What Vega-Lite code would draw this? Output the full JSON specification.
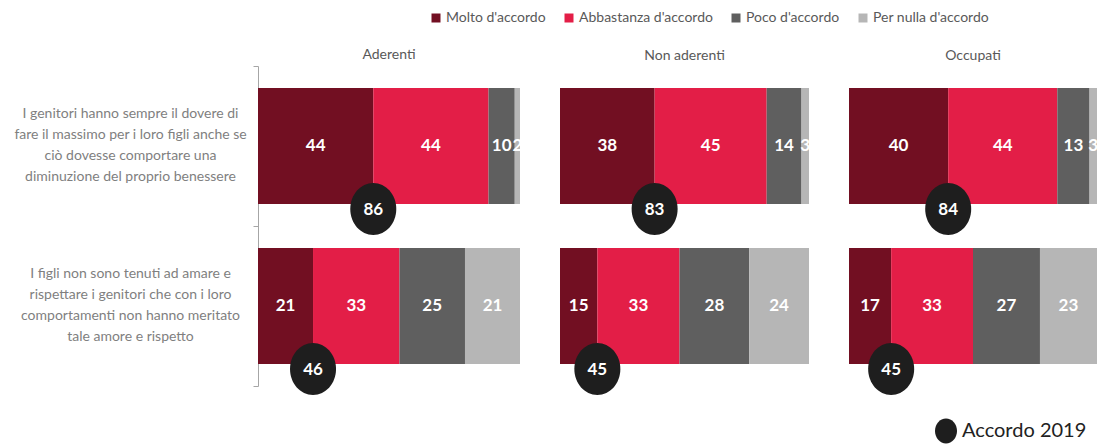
{
  "$schema": "https://vega.github.io/schema/vega-lite/v6.json",
  "background": "white",
  "padding": {"left": 13, "top": 11, "right": 0, "bottom": 0},
  "bounds": "flush",
  "spacing": 40,
  "config": {
    "view": {"stroke": null},
    "font": "Lato",
    "title": {"font": "Lato", "fontSize": 14, "fontWeight": "normal", "color": "#595959", "offset": -2, "frame": "group", "anchor": "middle"}
  },
  "datasets": {
    "bars": [
      {"grp": "Aderenti", "item": "I genitori hanno sempre il dovere di|fare il massimo per i loro figli anche se|ciò dovesse comportare una|diminuzione del proprio benessere", "cat": "Molto d'accordo", "k": 1, "v": 44},
      {"grp": "Aderenti", "item": "I genitori hanno sempre il dovere di|fare il massimo per i loro figli anche se|ciò dovesse comportare una|diminuzione del proprio benessere", "cat": "Abbastanza d'accordo", "k": 2, "v": 44},
      {"grp": "Aderenti", "item": "I genitori hanno sempre il dovere di|fare il massimo per i loro figli anche se|ciò dovesse comportare una|diminuzione del proprio benessere", "cat": "Poco d'accordo", "k": 3, "v": 10},
      {"grp": "Aderenti", "item": "I genitori hanno sempre il dovere di|fare il massimo per i loro figli anche se|ciò dovesse comportare una|diminuzione del proprio benessere", "cat": "Per nulla d'accordo", "k": 4, "v": 2},
      {"grp": "Aderenti", "item": "I figli non sono tenuti ad amare e|rispettare i genitori che con i loro|comportamenti non hanno meritato|tale amore e rispetto", "cat": "Molto d'accordo", "k": 1, "v": 21},
      {"grp": "Aderenti", "item": "I figli non sono tenuti ad amare e|rispettare i genitori che con i loro|comportamenti non hanno meritato|tale amore e rispetto", "cat": "Abbastanza d'accordo", "k": 2, "v": 33},
      {"grp": "Aderenti", "item": "I figli non sono tenuti ad amare e|rispettare i genitori che con i loro|comportamenti non hanno meritato|tale amore e rispetto", "cat": "Poco d'accordo", "k": 3, "v": 25},
      {"grp": "Aderenti", "item": "I figli non sono tenuti ad amare e|rispettare i genitori che con i loro|comportamenti non hanno meritato|tale amore e rispetto", "cat": "Per nulla d'accordo", "k": 4, "v": 21},
      {"grp": "Non aderenti", "item": "I genitori hanno sempre il dovere di|fare il massimo per i loro figli anche se|ciò dovesse comportare una|diminuzione del proprio benessere", "cat": "Molto d'accordo", "k": 1, "v": 38},
      {"grp": "Non aderenti", "item": "I genitori hanno sempre il dovere di|fare il massimo per i loro figli anche se|ciò dovesse comportare una|diminuzione del proprio benessere", "cat": "Abbastanza d'accordo", "k": 2, "v": 45},
      {"grp": "Non aderenti", "item": "I genitori hanno sempre il dovere di|fare il massimo per i loro figli anche se|ciò dovesse comportare una|diminuzione del proprio benessere", "cat": "Poco d'accordo", "k": 3, "v": 14},
      {"grp": "Non aderenti", "item": "I genitori hanno sempre il dovere di|fare il massimo per i loro figli anche se|ciò dovesse comportare una|diminuzione del proprio benessere", "cat": "Per nulla d'accordo", "k": 4, "v": 3},
      {"grp": "Non aderenti", "item": "I figli non sono tenuti ad amare e|rispettare i genitori che con i loro|comportamenti non hanno meritato|tale amore e rispetto", "cat": "Molto d'accordo", "k": 1, "v": 15},
      {"grp": "Non aderenti", "item": "I figli non sono tenuti ad amare e|rispettare i genitori che con i loro|comportamenti non hanno meritato|tale amore e rispetto", "cat": "Abbastanza d'accordo", "k": 2, "v": 33},
      {"grp": "Non aderenti", "item": "I figli non sono tenuti ad amare e|rispettare i genitori che con i loro|comportamenti non hanno meritato|tale amore e rispetto", "cat": "Poco d'accordo", "k": 3, "v": 28},
      {"grp": "Non aderenti", "item": "I figli non sono tenuti ad amare e|rispettare i genitori che con i loro|comportamenti non hanno meritato|tale amore e rispetto", "cat": "Per nulla d'accordo", "k": 4, "v": 24},
      {"grp": "Occupati", "item": "I genitori hanno sempre il dovere di|fare il massimo per i loro figli anche se|ciò dovesse comportare una|diminuzione del proprio benessere", "cat": "Molto d'accordo", "k": 1, "v": 40},
      {"grp": "Occupati", "item": "I genitori hanno sempre il dovere di|fare il massimo per i loro figli anche se|ciò dovesse comportare una|diminuzione del proprio benessere", "cat": "Abbastanza d'accordo", "k": 2, "v": 44},
      {"grp": "Occupati", "item": "I genitori hanno sempre il dovere di|fare il massimo per i loro figli anche se|ciò dovesse comportare una|diminuzione del proprio benessere", "cat": "Poco d'accordo", "k": 3, "v": 13},
      {"grp": "Occupati", "item": "I genitori hanno sempre il dovere di|fare il massimo per i loro figli anche se|ciò dovesse comportare una|diminuzione del proprio benessere", "cat": "Per nulla d'accordo", "k": 4, "v": 3},
      {"grp": "Occupati", "item": "I figli non sono tenuti ad amare e|rispettare i genitori che con i loro|comportamenti non hanno meritato|tale amore e rispetto", "cat": "Molto d'accordo", "k": 1, "v": 17},
      {"grp": "Occupati", "item": "I figli non sono tenuti ad amare e|rispettare i genitori che con i loro|comportamenti non hanno meritato|tale amore e rispetto", "cat": "Abbastanza d'accordo", "k": 2, "v": 33},
      {"grp": "Occupati", "item": "I figli non sono tenuti ad amare e|rispettare i genitori che con i loro|comportamenti non hanno meritato|tale amore e rispetto", "cat": "Poco d'accordo", "k": 3, "v": 27},
      {"grp": "Occupati", "item": "I figli non sono tenuti ad amare e|rispettare i genitori che con i loro|comportamenti non hanno meritato|tale amore e rispetto", "cat": "Per nulla d'accordo", "k": 4, "v": 23}
    ],
    "circ": [
      {"grp": "Aderenti", "item": "I genitori hanno sempre il dovere di|fare il massimo per i loro figli anche se|ciò dovesse comportare una|diminuzione del proprio benessere", "m": 44, "acc": 86},
      {"grp": "Aderenti", "item": "I figli non sono tenuti ad amare e|rispettare i genitori che con i loro|comportamenti non hanno meritato|tale amore e rispetto", "m": 21, "acc": 46},
      {"grp": "Non aderenti", "item": "I genitori hanno sempre il dovere di|fare il massimo per i loro figli anche se|ciò dovesse comportare una|diminuzione del proprio benessere", "m": 38, "acc": 83},
      {"grp": "Non aderenti", "item": "I figli non sono tenuti ad amare e|rispettare i genitori che con i loro|comportamenti non hanno meritato|tale amore e rispetto", "m": 15, "acc": 45},
      {"grp": "Occupati", "item": "I genitori hanno sempre il dovere di|fare il massimo per i loro figli anche se|ciò dovesse comportare una|diminuzione del proprio benessere", "m": 40, "acc": 84},
      {"grp": "Occupati", "item": "I figli non sono tenuti ad amare e|rispettare i genitori che con i loro|comportamenti non hanno meritato|tale amore e rispetto", "m": 17, "acc": 45}
    ]
  },
  "resolve": {"scale": {"x": "independent", "y": "independent", "color": "shared", "shape": "shared"}},
  "hconcat": [
    {
      "width": 262, "height": 320,
      "title": {"text": "Aderenti", "offset": -3},
      "layer": [
        {
          "data": {"name": "bars"},
          "transform": [
            {"filter": "datum.grp == 'Aderenti'"},
            {"stack": "v", "groupby": ["item"], "sort": [{"field": "k"}], "as": ["v0", "v1"]},
            {"calculate": "(datum.v0 + datum.v1) / 2", "as": "mid"}
          ],
          "encoding": {
            "y": {"field": "item", "type": "nominal", "sort": ["I genitori hanno sempre il dovere di|fare il massimo per i loro figli anche se|ciò dovesse comportare una|diminuzione del proprio benessere", "I figli non sono tenuti ad amare e|rispettare i genitori che con i loro|comportamenti non hanno meritato|tale amore e rispetto"],
              "scale": {"paddingInner": 0, "paddingOuter": 0},
              "axis": {"title": null, "labelExpr": "split(datum.label, '|')", "labelAlign": "center", "labelPadding": 123, "labelOffset": -33, "labelLimit": 0, "labelFont": "Lato", "labelFontSize": 14, "labelColor": "#7f7f7f", "labelLineHeight": 21, "tickBand": "extent", "tickSize": 5, "tickColor": "#a6a6a6", "domainColor": "#a6a6a6"}}
          },
          "layer": [
            {
              "mark": {"type": "bar", "height": {"band": 0.725}},
              "encoding": {
                "x": {"field": "v0", "type": "quantitative", "scale": {"domain": [0, 100], "nice": false}, "axis": null},
                "x2": {"field": "v1"},
                "color": {"field": "cat", "type": "nominal",
                  "scale": {"domain": ["Molto d'accordo", "Abbastanza d'accordo", "Poco d'accordo", "Per nulla d'accordo"], "range": ["#720f22", "#e31e47", "#5f5f5f", "#b6b6b6"]},
                  "legend": {"orient": "none", "legendX": 171, "legendY": -55, "direction": "horizontal", "title": null, "symbolType": "square", "symbolSize": 81, "symbolStrokeWidth": 0, "labelFont": "Lato", "labelFontSize": 14, "labelColor": "#595959", "columnPadding": 16, "labelOffset": 3}}
              }
            },
            {
              "mark": {"type": "text", "color": "white", "fontWeight": "bold", "fontSize": 17, "font": "Lato", "baseline": "middle"},
              "encoding": {
                "x": {"field": "mid", "type": "quantitative"},
                "text": {"field": "v", "type": "quantitative"}
              }
            }
          ]
        },
        {
          "data": {"name": "circ"},
          "transform": [{"filter": "datum.grp == 'Aderenti'"}],
          "encoding": {
            "x": {"field": "m", "type": "quantitative"},
            "y": {"field": "item", "type": "nominal", "sort": ["I genitori hanno sempre il dovere di|fare il massimo per i loro figli anche se|ciò dovesse comportare una|diminuzione del proprio benessere", "I figli non sono tenuti ad amare e|rispettare i genitori che con i loro|comportamenti non hanno meritato|tale amore e rispetto"]}
          },
          "layer": [
            {
              "mark": {"type": "point", "filled": true, "color": "#1e1e1e", "opacity": 1, "size": 2116, "yOffset": 63},
              "encoding": {
                "shape": {"datum": "Accordo 2019", "type": "nominal", "scale": {"range": ["M0,-1.13A1,1.13 0 1,1 0,1.13A1,1.13 0 1,1 0,-1.13Z"]},
                  "legend": {"orient": "none", "legendX": 677, "legendY": 354, "title": null, "symbolSize": 484, "symbolFillColor": "#1e1e1e", "symbolStrokeWidth": 0, "symbolOpacity": 1, "labelFont": "Lato", "labelFontSize": 20, "labelColor": "#222222", "labelOffset": 5}}
              }
            },
            {
              "mark": {"type": "text", "color": "white", "fontWeight": "bold", "fontSize": 17, "font": "Lato", "baseline": "middle", "yOffset": 64},
              "encoding": {"text": {"field": "acc", "type": "quantitative"}}
            }
          ]
        }
      ]
    },
    {
      "width": 249, "height": 320,
      "title": {"text": "Non aderenti", "offset": 3},
      "layer": [
        {
          "data": {"name": "bars"},
          "transform": [
            {"filter": "datum.grp == 'Non aderenti'"},
            {"stack": "v", "groupby": ["item"], "sort": [{"field": "k"}], "as": ["v0", "v1"]},
            {"calculate": "(datum.v0 + datum.v1) / 2", "as": "mid"}
          ],
          "encoding": {
            "y": {"field": "item", "type": "nominal", "sort": ["I genitori hanno sempre il dovere di|fare il massimo per i loro figli anche se|ciò dovesse comportare una|diminuzione del proprio benessere", "I figli non sono tenuti ad amare e|rispettare i genitori che con i loro|comportamenti non hanno meritato|tale amore e rispetto"],
              "scale": {"paddingInner": 0, "paddingOuter": 0}, "axis": null}
          },
          "layer": [
            {
              "mark": {"type": "bar", "height": {"band": 0.725}},
              "encoding": {
                "x": {"field": "v0", "type": "quantitative", "scale": {"domain": [0, 100], "nice": false}, "axis": null},
                "x2": {"field": "v1"},
                "color": {"field": "cat", "type": "nominal", "legend": null}
              }
            },
            {
              "mark": {"type": "text", "color": "white", "fontWeight": "bold", "fontSize": 17, "font": "Lato", "baseline": "middle"},
              "encoding": {
                "x": {"field": "mid", "type": "quantitative"},
                "text": {"field": "v", "type": "quantitative"}
              }
            }
          ]
        },
        {
          "data": {"name": "circ"},
          "transform": [{"filter": "datum.grp == 'Non aderenti'"}],
          "encoding": {
            "x": {"field": "m", "type": "quantitative"},
            "y": {"field": "item", "type": "nominal", "sort": ["I genitori hanno sempre il dovere di|fare il massimo per i loro figli anche se|ciò dovesse comportare una|diminuzione del proprio benessere", "I figli non sono tenuti ad amare e|rispettare i genitori che con i loro|comportamenti non hanno meritato|tale amore e rispetto"]}
          },
          "layer": [
            {
              "mark": {"type": "point", "filled": true, "color": "#1e1e1e", "opacity": 1, "size": 2116, "yOffset": 63},
              "encoding": {"shape": {"datum": "Accordo 2019", "type": "nominal", "legend": null}}
            },
            {
              "mark": {"type": "text", "color": "white", "fontWeight": "bold", "fontSize": 17, "font": "Lato", "baseline": "middle", "yOffset": 64},
              "encoding": {"text": {"field": "acc", "type": "quantitative"}}
            }
          ]
        }
      ]
    },
    {
      "width": 248, "height": 320,
      "title": {"text": "Occupati", "offset": 3},
      "layer": [
        {
          "data": {"name": "bars"},
          "transform": [
            {"filter": "datum.grp == 'Occupati'"},
            {"stack": "v", "groupby": ["item"], "sort": [{"field": "k"}], "as": ["v0", "v1"]},
            {"calculate": "(datum.v0 + datum.v1) / 2", "as": "mid"}
          ],
          "encoding": {
            "y": {"field": "item", "type": "nominal", "sort": ["I genitori hanno sempre il dovere di|fare il massimo per i loro figli anche se|ciò dovesse comportare una|diminuzione del proprio benessere", "I figli non sono tenuti ad amare e|rispettare i genitori che con i loro|comportamenti non hanno meritato|tale amore e rispetto"],
              "scale": {"paddingInner": 0, "paddingOuter": 0}, "axis": null}
          },
          "layer": [
            {
              "mark": {"type": "bar", "height": {"band": 0.725}},
              "encoding": {
                "x": {"field": "v0", "type": "quantitative", "scale": {"domain": [0, 100], "nice": false}, "axis": null},
                "x2": {"field": "v1"},
                "color": {"field": "cat", "type": "nominal", "legend": null}
              }
            },
            {
              "mark": {"type": "text", "color": "white", "fontWeight": "bold", "fontSize": 17, "font": "Lato", "baseline": "middle"},
              "encoding": {
                "x": {"field": "mid", "type": "quantitative"},
                "text": {"field": "v", "type": "quantitative"}
              }
            }
          ]
        },
        {
          "data": {"name": "circ"},
          "transform": [{"filter": "datum.grp == 'Occupati'"}],
          "encoding": {
            "x": {"field": "m", "type": "quantitative"},
            "y": {"field": "item", "type": "nominal", "sort": ["I genitori hanno sempre il dovere di|fare il massimo per i loro figli anche se|ciò dovesse comportare una|diminuzione del proprio benessere", "I figli non sono tenuti ad amare e|rispettare i genitori che con i loro|comportamenti non hanno meritato|tale amore e rispetto"]}
          },
          "layer": [
            {
              "mark": {"type": "point", "filled": true, "color": "#1e1e1e", "opacity": 1, "size": 2116, "yOffset": 63},
              "encoding": {"shape": {"datum": "Accordo 2019", "type": "nominal", "legend": null}}
            },
            {
              "mark": {"type": "text", "color": "white", "fontWeight": "bold", "fontSize": 17, "font": "Lato", "baseline": "middle", "yOffset": 64},
              "encoding": {"text": {"field": "acc", "type": "quantitative"}}
            }
          ]
        }
      ]
    }
  ]
}
